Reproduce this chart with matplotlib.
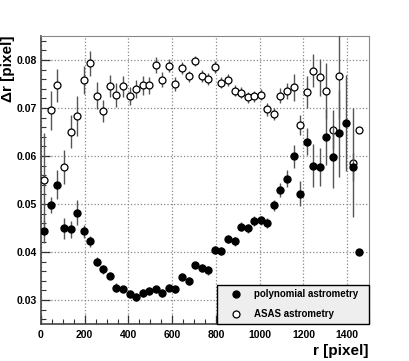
import numpy as np
from matplotlib import pyplot as plt
from matplotlib.ticker import MultipleLocator, FormatStrFormatter

plt.rcParams['font.family'] = ['Liberation Sans', 'DejaVu Sans']
plt.rcParams['font.weight'] = 'bold'

# Centros dos bins em r (pixel)
r = np.arange(15, 1470, 30)

# Astrometria polinomial (círculos cheios)
dr_poly = [0.0443, 0.0498, 0.0540, 0.0449, 0.0447, 0.0482, 0.0443, 0.0422, 0.0380, 0.0364,
           0.0351, 0.0326, 0.0322, 0.0312, 0.0306, 0.0314, 0.0319, 0.0322, 0.0314, 0.0326,
           0.0322, 0.0348, 0.0339, 0.0372, 0.0367, 0.0362, 0.0404, 0.0402, 0.0427, 0.0422,
           0.0453, 0.0449, 0.0465, 0.0466, 0.0461, 0.0497, 0.0529, 0.0553, 0.0599, 0.0521,
           0.0630, 0.0580, 0.0577, 0.0640, 0.0597, 0.0647, 0.0668, 0.0577, 0.0401]
err_poly = [0.0024, 0.0017, 0.0030, 0.0022, 0.0017, 0.0026, 0.0014, 0.0011, 0.0010, 0.0009,
            0.0008, 0.0009, 0.0008, 0.0008, 0.0008, 0.0008, 0.0008, 0.0008, 0.0008, 0.0008,
            0.0008, 0.0008, 0.0008, 0.0008, 0.0008, 0.0009, 0.0009, 0.0009, 0.0009, 0.0009,
            0.0010, 0.0010, 0.0010, 0.0010, 0.0010, 0.0012, 0.0015, 0.0018, 0.0024, 0.0026,
            0.0028, 0.0044, 0.0040, 0.0058, 0.0063, 0.0090, 0.0100, 0.0030, 0.0]

# Astrometria ASAS (círculos vazios)
dr_asas = [0.0551, 0.0695, 0.0747, 0.0577, 0.0651, 0.0683, 0.0759, 0.0793, 0.0726, 0.0694,
           0.0746, 0.0728, 0.0745, 0.0725, 0.0739, 0.0747, 0.0747, 0.0789, 0.0759, 0.0788,
           0.0750, 0.0783, 0.0766, 0.0798, 0.0767, 0.0760, 0.0785, 0.0753, 0.0758, 0.0736,
           0.0732, 0.0722, 0.0724, 0.0728, 0.0697, 0.0688, 0.0726, 0.0736, 0.0743, 0.0664,
           0.0734, 0.0778, 0.0764, 0.0736, 0.0655, 0.0767, np.nan, 0.0586, 0.0655]
err_asas = [0.0097, 0.0040, 0.0035, 0.0035, 0.0035, 0.0041, 0.0029, 0.0026, 0.0028, 0.0023,
            0.0023, 0.0025, 0.0022, 0.0019, 0.0019, 0.0020, 0.0017, 0.0017, 0.0015, 0.0014,
            0.0014, 0.0012, 0.0012, 0.0011, 0.0012, 0.0012, 0.0012, 0.0012, 0.0012, 0.0012,
            0.0012, 0.0012, 0.0012, 0.0012, 0.0013, 0.0013, 0.0015, 0.0017, 0.0028, 0.0021,
            0.0033, 0.0035, 0.0038, 0.0058, 0.0040, 0.0090, 0.0, 0.0114, 0.0]

fig = plt.figure(figsize=(4.1, 3.61), dpi=100)
ax = fig.add_axes([0.1, 0.1025, 0.8, 0.7978])

# ASAS primeiro, polinomial por cima
ax.errorbar(r, dr_asas, yerr=err_asas, fmt='o', ms=5, mfc='white', mec='black', mew=0.9,
            ecolor='#555555', elinewidth=1, capsize=0, zorder=3)
ax.errorbar(r, dr_poly, yerr=err_poly, fmt='o', ms=5, mfc='black', mec='black',
            ecolor='#555555', elinewidth=1, capsize=0, zorder=4)

ax.set_xlim(0, 1500)
ax.set_ylim(0.025, 0.085)
ax.xaxis.set_major_locator(MultipleLocator(200))
ax.xaxis.set_minor_locator(MultipleLocator(50))
ax.yaxis.set_major_locator(MultipleLocator(0.01))
ax.yaxis.set_minor_locator(MultipleLocator(0.002))
ax.yaxis.set_major_formatter(FormatStrFormatter('%.2f'))

ax.grid(True, which='major', linestyle=':', color='#888888', linewidth=0.9)
ax.set_axisbelow(True)

ax.tick_params(which='both', direction='in', top=False, right=False, color='#333333',
               labelsize=7.5)
ax.tick_params(which='major', length=6.5, width=0.9)
ax.tick_params(which='minor', length=3.5, width=0.8)
ax.tick_params(axis='x', pad=4)
ax.tick_params(axis='y', pad=3)

for s in ['top', 'right']:
    ax.spines[s].set_color('#888888')
for s in ['left', 'bottom']:
    ax.spines[s].set_color('#444444')
    ax.spines[s].set_linewidth(1.2)

fig.text(0.9, 0.008, 'r [pixel]', ha='right', va='bottom', fontsize=11, fontweight='bold')
fig.text(0.02, 0.903, 'Δr [pixel]', rotation=90, ha='center', va='top', fontsize=11,
         fontweight='bold')

# Legenda
h1, = ax.plot([], [], 'o', ms=5, mfc='black', mec='black')
h2, = ax.plot([], [], 'o', ms=5, mfc='white', mec='black', mew=0.9)
leg = ax.legend([h1, h2], ['polynomial astrometry', 'ASAS astrometry'],
                loc='lower left', bbox_to_anchor=(0.536, 0.0, 0.464, 0.138), mode='expand',
                borderaxespad=0, fontsize=7, fancybox=False, framealpha=1,
                borderpad=0.5, handlelength=2.9, handletextpad=0.45, labelspacing=1.0)
leg.get_frame().set_facecolor('#eeeeee')
leg.get_frame().set_edgecolor('black')
leg.get_frame().set_linewidth(1.0)
leg.set_zorder(10)

fig.savefig('out.png', dpi=100)
